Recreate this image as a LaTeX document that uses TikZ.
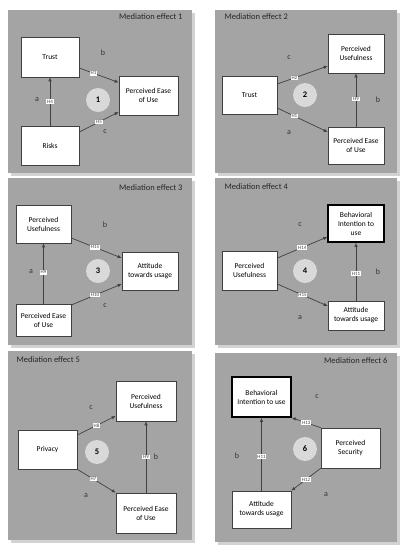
\documentclass[tikz,border=0pt]{standalone}
\usepackage{fontspec}
\setmainfont{Carlito}
\usetikzlibrary{arrows.meta}
\definecolor{panelgray}{HTML}{A4A4A4}
\definecolor{shadowgray}{HTML}{D2D2D2}
\definecolor{circlegray}{HTML}{D9D9D9}
\definecolor{linegray}{HTML}{404040}

\begin{document}
\begin{tikzpicture}[x=1pt,y=-1pt,
  box/.style={draw=linegray, fill=white, rectangle, line width=0.6pt, align=center, font=\fontsize{7.5}{9}\selectfont, inner sep=1pt},
  thickbox/.style={box, draw=black, line width=1.6pt},
  hyp/.style={fill=white, font=\fontsize{5}{5}\selectfont, inner sep=0.7pt, text=linegray},
  rel/.style={draw=linegray, line width=0.7pt, -{Latex[length=4pt,width=3.5pt]}},
  num/.style={circle, fill=circlegray, minimum size=24pt, font=\fontsize{8.5}{9}\selectfont\bfseries},
  lbl/.style={font=\fontsize{8}{9}\selectfont, text=black!80},
  ttl/.style={font=\fontsize{8.5}{9}\selectfont, text=black!85}]

\useasboundingbox (0,0) rectangle (407,550);
\fill[white] (0,0) rectangle (407,550);

% panels
\foreach \xa/\ya/\xb/\yb in {8/10/192/173, 215/10/397/173, 8/178/192/345, 215/178/397/345, 8/351/192/540, 215/353/397/542}{
  \fill[shadowgray] (\xa+3,\ya+3) rectangle (\xb+3,\yb+3);
  \fill[panelgray] (\xa,\ya) rectangle (\xb,\yb);
}

% mediation effect 1
\node[ttl, anchor=east] (t1) at (186,17) {Mediation effect 1};
\node[box, minimum width=58pt, minimum height=40pt] (trust1) at (50,57) {Trust};
\node[box, minimum width=58pt, minimum height=39pt] (risks1) at (50,145.5) {Risks};
\node[box, minimum width=59pt, minimum height=39pt] (peou1) at (148.5,95.5) {Perceived Ease\\of Use};
\node[num] (n1) at (98,100) {1};
\draw[rel] ([yshift=-11pt]trust1.east) -- node[hyp, pos=0.36] {H1} ([yshift=13pt]peou1.west);
\draw[rel] (risks1) -- node[hyp] {H4} (trust1);
\draw[rel] ([yshift=13.5pt]risks1.east) -- node[hyp] {H5} ([yshift=-16.5pt]peou1.west);
\node[lbl] (b1) at (103,53) {b};
\node[lbl] (a1) at (37,100) {a};
\node[lbl] (c1) at (105,132) {c};

% mediation effect 2
\node[ttl, anchor=west] (t2) at (221,17) {Mediation effect 2};
\node[box, minimum width=55pt, minimum height=38pt] (trust2) at (249.5,95) {Trust};
\node[box, minimum width=56pt, minimum height=39pt] (pu2) at (356,53.5) {Perceived\\Usefulness};
\node[box, minimum width=56pt, minimum height=37pt] (peou2) at (356,145.5) {Perceived Ease\\of Use};
\node[num] (n2) at (305,95) {2};
\draw[rel] ([yshift=11pt]trust2.east) -- node[hyp, pos=0.34] {H2} ([yshift=-12.5pt]pu2.west);
\draw[rel] ([yshift=-13pt]trust2.east) -- node[hyp, pos=0.34] {H1} ([yshift=13.5pt]peou2.west);
\draw[rel] (peou2) -- node[hyp, pos=0.52] {H9} (pu2);
\node[lbl] (c2) at (289,58) {c};
\node[lbl] (a2) at (289,133) {a};
\node[lbl] (b2) at (378,100) {b};

% mediation effect 3
\node[ttl, anchor=east] (t3) at (186,188) {Mediation effect 3};
\node[box, minimum width=55pt, minimum height=38pt] (pu3) at (43.5,224) {Perceived\\Usefulness};
\node[box, minimum width=55pt, minimum height=32pt] (peou3) at (43.5,320) {Perceived Ease\\of Use};
\node[box, minimum width=56pt, minimum height=38pt] (att3) at (150,271) {Attitude\\towards usage};
\node[num] (n3) at (98,271) {3};
\draw[rel] ([yshift=-14pt]pu3.east) -- node[hyp, pos=0.47] {H15} ([yshift=13pt]att3.west);
\draw[rel] ([yshift=15pt]peou3.east) -- node[hyp, pos=0.47] {H10} ([yshift=-13pt]att3.west);
\draw[rel] (peou3) -- node[hyp, pos=0.52] {H9} (pu3);
\node[lbl] (b3) at (105,225) {b};
\node[lbl] (a3) at (31,272) {a};
\node[lbl] (c3) at (105,306) {c};

% mediation effect 4
\node[ttl, anchor=west] (t4) at (221,187) {Mediation effect 4};
\node[thickbox, minimum width=56pt, minimum height=37pt] (bi4) at (356,223.5) {Behavioral\\Intention to\\use};
\node[box, minimum width=55pt, minimum height=39pt] (pu4) at (249.5,270.5) {Perceived\\Usefulness};
\node[box, minimum width=56pt, minimum height=29pt] (att4) at (356,315.5) {Attitude\\towards usage};
\node[num] (n4) at (305,271) {4};
\draw[rel] ([yshift=12.5pt]pu4.east) -- node[hyp] {H14} ([yshift=-13.5pt]bi4.west);
\draw[rel] ([yshift=-13.5pt]pu4.east) -- node[hyp] {H15} ([yshift=9.5pt]att4.west);
\draw[rel] (att4) -- node[hyp, pos=0.47] {H11} (bi4);
\node[lbl] (c4) at (300,225) {c};
\node[lbl] (b4) at (378,272) {b};
\node[lbl] (a4) at (300,318) {a};

% mediation effect 5
\node[ttl, anchor=west] (t5) at (13,360) {Mediation effect 5};
\node[box, minimum width=59pt, minimum height=39pt] (priv5) at (47.5,449.5) {Privacy};
\node[box, minimum width=60pt, minimum height=40pt] (pu5) at (146,401) {Perceived\\Usefulness};
\node[box, minimum width=60pt, minimum height=40pt] (peou5) at (146,513) {Perceived Ease\\of Use};
\node[num] (n5) at (97,452) {5};
\draw[rel] ([yshift=14.5pt]priv5.east) -- node[hyp] {H8} ([yshift=-15pt]pu5.west);
\draw[rel] (priv5.south east) -- node[hyp, pos=0.42] {H7} (peou5.north west);
\draw[rel] (peou5) -- node[hyp] {H9} (pu5);
\node[lbl] (c5) at (91,408) {c};
\node[lbl] (a5) at (86,496) {a};
\node[lbl] (b5) at (156,457) {b};

% mediation effect 6
\node[ttl, anchor=east] (t6) at (391,361) {Mediation effect 6};
\node[thickbox, minimum width=59pt, minimum height=40pt] (bi6) at (261.5,397) {Behavioral\\Intention to use};
\node[box, minimum width=59pt, minimum height=40pt] (ps6) at (350.5,448) {Perceived\\Security};
\node[box, minimum width=59pt, minimum height=37pt] (att6) at (261.5,509.5) {Attitude\\towards usage};
\node[num] (n6) at (305,449) {6};
\draw[rel] (ps6.north west) -- node[hyp] {H13} (bi6.south east);
\draw[rel] (ps6.south west) -- node[hyp] {H12} (att6.north east);
\draw[rel] (att6) -- node[hyp, pos=0.47] {H11} (bi6);
\node[lbl] (c6) at (317,397) {c};
\node[lbl] (b6) at (237,456) {b};
\node[lbl] (a6) at (326,495) {a};
\end{tikzpicture}
\end{document}
